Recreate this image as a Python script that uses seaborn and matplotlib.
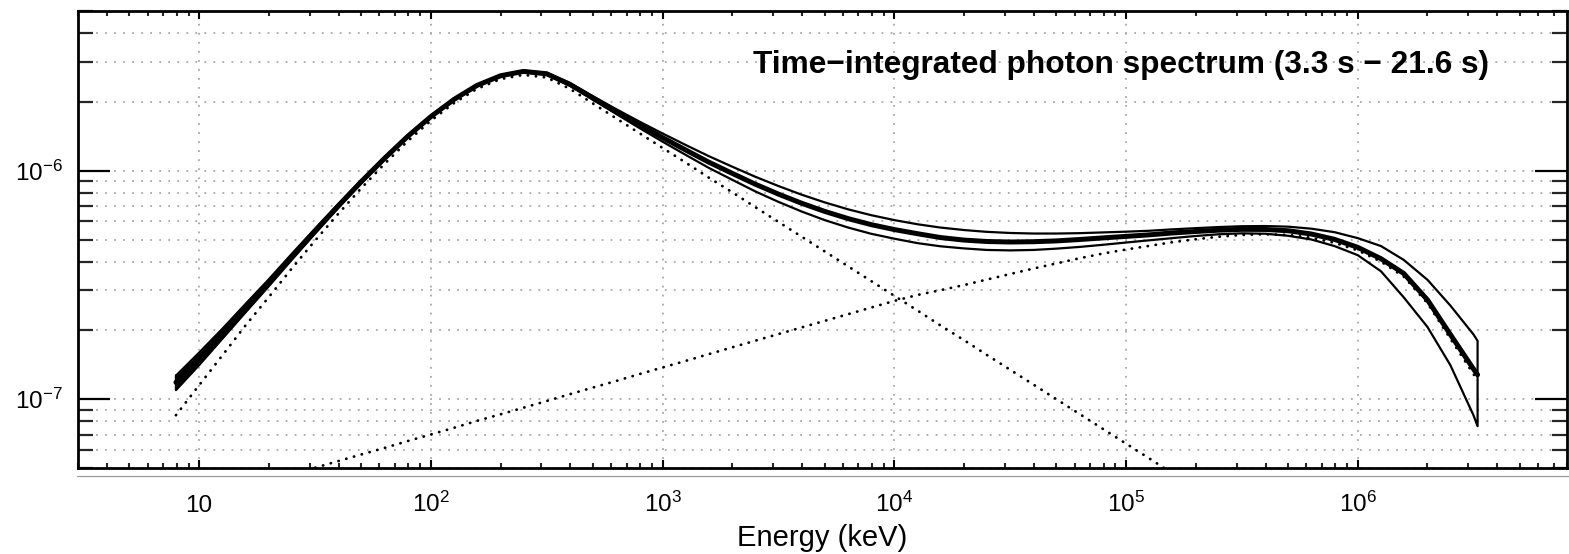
import numpy as np
import pandas as pd
import matplotlib
matplotlib.use("Agg")
import matplotlib.pyplot as plt
from matplotlib.lines import Line2D
from matplotlib import ticker
import seaborn as sns

# ---------------- data ----------------
# photon energy grid, keV
energy = [7.94, 10.0, 12.6, 15.8, 20.0, 25.1, 31.6, 39.8, 50.1, 63.1, 79.4,
          100, 126, 158, 200, 251, 316, 398, 501, 631, 794,
          1.0e3, 1.26e3, 1.58e3, 2.0e3, 2.51e3, 3.16e3, 3.98e3, 5.01e3, 6.31e3, 7.94e3,
          1.0e4, 1.26e4, 1.58e4, 2.0e4, 2.51e4, 3.16e4, 3.98e4, 5.01e4, 6.31e4, 7.94e4,
          1.0e5, 1.26e5, 1.58e5, 2.0e5, 2.51e5, 3.16e5, 3.98e5, 5.01e5, 6.31e5, 7.94e5,
          1.0e6, 1.26e6, 1.58e6, 2.0e6, 2.51e6, 3.16e6, 3.29e6]

# best-fit total nuFnu (erg cm^-2 s^-1)
total = [1.185e-7, 1.509e-7, 1.938e-7, 2.503e-7, 3.24e-7, 4.201e-7, 5.437e-7, 7.006e-7,
         8.961e-7, 1.133e-6, 1.413e-6, 1.725e-6, 2.053e-6, 2.361e-6, 2.604e-6, 2.720e-6,
         2.656e-6, 2.388e-6, 2.080e-6, 1.814e-6, 1.589e-6, 1.396e-6, 1.231e-6, 1.091e-6,
         9.732e-7, 8.734e-7, 7.900e-7, 7.206e-7, 6.636e-7, 6.174e-7, 5.809e-7, 5.527e-7,
         5.30e-7, 5.10e-7, 4.97e-7, 4.90e-7, 4.875e-7, 4.89e-7, 4.93e-7, 5.00e-7,
         5.08e-7, 5.16e-7, 5.24e-7, 5.339e-7, 5.421e-7, 5.492e-7, 5.539e-7, 5.533e-7,
         5.461e-7, 5.284e-7, 5.007e-7, 4.62e-7, 4.12e-7, 3.55e-7, 2.72e-7, 1.92e-7,
         1.355e-7, 1.28e-7]

# upper / lower edge of the 1-sigma contour
upper = [1.268e-7, 1.600e-7, 2.035e-7, 2.603e-7, 3.353e-7, 4.327e-7, 5.573e-7, 7.146e-7,
         9.104e-7, 1.148e-6, 1.429e-6, 1.742e-6, 2.069e-6, 2.378e-6, 2.622e-6, 2.742e-6,
         2.683e-6, 2.419e-6, 2.117e-6, 1.859e-6, 1.641e-6, 1.455e-6, 1.295e-6, 1.159e-6,
         1.041e-6, 9.415e-7, 8.572e-7, 7.855e-7, 7.266e-7, 6.779e-7, 6.390e-7, 6.080e-7,
         5.83e-7, 5.64e-7, 5.50e-7, 5.40e-7, 5.34e-7, 5.31e-7, 5.31e-7, 5.33e-7,
         5.37e-7, 5.41e-7, 5.46e-7, 5.537e-7, 5.605e-7, 5.668e-7, 5.716e-7, 5.727e-7,
         5.690e-7, 5.575e-7, 5.383e-7, 5.07e-7, 4.68e-7, 4.07e-7, 3.33e-7, 2.57e-7,
         1.92e-7, 1.80e-7]
lower = [1.096e-7, 1.411e-7, 1.841e-7, 2.390e-7, 3.127e-7, 4.075e-7, 5.301e-7, 6.866e-7,
         8.818e-7, 1.118e-6, 1.397e-6, 1.708e-6, 2.037e-6, 2.344e-6, 2.586e-6, 2.698e-6,
         2.629e-6, 2.357e-6, 2.043e-6, 1.771e-6, 1.538e-6, 1.340e-6, 1.172e-6, 1.030e-6,
         9.120e-7, 8.123e-7, 7.308e-7, 6.630e-7, 6.079e-7, 5.643e-7, 5.298e-7, 5.041e-7,
         4.82e-7, 4.67e-7, 4.57e-7, 4.50e-7, 4.48e-7, 4.50e-7, 4.56e-7, 4.64e-7,
         4.74e-7, 4.85e-7, 4.96e-7, 5.07e-7, 5.18e-7, 5.27e-7, 5.32e-7, 5.30e-7,
         5.19e-7, 5.00e-7, 4.68e-7, 4.27e-7, 3.63e-7, 2.79e-7, 2.07e-7, 1.41e-7,
         0.85e-7, 0.762e-7]

# Band component (dotted)
band = [0.851e-7, 1.152e-7, 1.556e-7, 2.094e-7, 2.803e-7, 3.733e-7, 4.936e-7, 6.470e-7,
        8.388e-7, 1.072e-6, 1.347e-6, 1.655e-6, 1.978e-6, 2.281e-6, 2.518e-6, 2.628e-6,
        2.558e-6, 2.283e-6, 1.967e-6, 1.694e-6, 1.460e-6, 1.258e-6, 1.084e-6, 9.337e-7,
        8.045e-7, 6.931e-7, 5.972e-7, 5.145e-7, 4.433e-7, 3.819e-7, 3.291e-7, 2.835e-7,
        2.443e-7, 2.105e-7, 1.813e-7, 1.562e-7, 1.346e-7, 1.160e-7, 0.9993e-7, 0.861e-7,
        0.7419e-7, 0.6392e-7, 0.5507e-7, 0.4745e-7, 0.4088e-7, 0.3522e-7]

# extra cut-off power-law component (dotted)
cpl = [0.334e-7, 0.357e-7, 0.382e-7, 0.409e-7, 0.4375e-7, 0.468e-7, 0.501e-7, 0.536e-7,
       0.573e-7, 0.612e-7, 0.656e-7, 0.701e-7, 0.750e-7, 0.804e-7, 0.859e-7, 0.918e-7,
       0.982e-7, 1.052e-7, 1.125e-7, 1.202e-7, 1.288e-7, 1.377e-7, 1.472e-7, 1.574e-7,
       1.687e-7, 1.803e-7, 1.928e-7, 2.061e-7, 2.203e-7, 2.355e-7, 2.518e-7, 2.692e-7,
       2.86e-7, 3.00e-7, 3.16e-7, 3.34e-7, 3.53e-7, 3.73e-7, 3.93e-7, 4.14e-7,
       4.34e-7, 4.52e-7, 4.69e-7, 4.864e-7, 5.012e-7, 5.140e-7, 5.236e-7, 5.272e-7,
       5.236e-7, 5.09e-7, 4.84e-7, 4.48e-7, 4.00e-7, 3.44e-7, 2.63e-7, 1.84e-7,
       1.287e-7, 1.213e-7]

xtick_values = [10, 1e2, 1e3, 1e4, 1e5, 1e6]
xtick_labels = ["10", "$10^{2}$", "$10^{3}$", "$10^{4}$", "$10^{5}$", "$10^{6}$"]
ytick_values = [1e-7, 1e-6]
ytick_labels = ["$10^{-7}$", "$10^{-6}$"]
x_label = "Energy (keV)"
annotation = "Time\u2212integrated photon spectrum (3.3 s \u2212 21.6 s)"

# ---------------- styling ----------------
sns.set_theme(style="white")
plt.rcParams["font.family"] = ["Liberation Sans", "DejaVu Sans"]
plt.rcParams["mathtext.fontset"] = "custom"
plt.rcParams["mathtext.rm"] = "Liberation Sans"
plt.rcParams["mathtext.it"] = "Liberation Sans:italic"
plt.rcParams["mathtext.bf"] = "Liberation Sans:bold"
plt.rcParams["axes.unicode_minus"] = True

W, H = 1569, 554
fig = plt.figure(figsize=(W / 100, H / 100), dpi=100)
ax = fig.add_axes([78 / W, 1 - 468 / H, (1567 - 78) / W, (468 - 11) / H])
ax.set_xscale("log")
ax.set_yscale("log")

df = pd.DataFrame({"E": energy, "total": total, "upper": upper,
                   "lower": lower, "cpl": cpl})
band_df = pd.DataFrame({"E": energy[:len(band)], "band": band})

dot = dict(color="black", lw=2.0, linestyle=(0, (0.1, 2.8)),
           dash_capstyle="round")
sns.lineplot(data=band_df, x="E", y="band", ax=ax, **dot)
sns.lineplot(data=df, x="E", y="cpl", ax=ax, **dot)

# dense bundle of fit curves at low energy (appears solid black)
low = df[df["E"] <= 64]
ax.fill_between(low["E"], low["lower"], low["upper"], color="black", lw=0)

# closed 1-sigma contour outline
contour_x = list(df["E"]) + list(df["E"][::-1]) + [df["E"].iloc[0]]
contour_y = list(df["upper"]) + list(df["lower"][::-1]) + [df["upper"].iloc[0]]
sns.lineplot(x=contour_x, y=contour_y, sort=False, estimator=None, ax=ax,
             color="black", lw=1.6)
sns.lineplot(data=df, x="E", y="total", ax=ax, color="black", lw=3.6)

ax.set_xlim(3.0, 8.0e6)
ax.set_ylim(5e-8, 5e-6)

ax.set_xticks(xtick_values)
ax.set_xticklabels(xtick_labels)
ax.xaxis.set_minor_locator(ticker.LogLocator(base=10, subs=np.arange(2, 10), numticks=20))
ax.xaxis.set_minor_formatter(ticker.NullFormatter())
ax.set_yticks(ytick_values)
ax.set_yticklabels(ytick_labels)
ax.yaxis.set_minor_locator(ticker.LogLocator(base=10, subs=np.arange(2, 10), numticks=20))
ax.yaxis.set_minor_formatter(ticker.NullFormatter())

ax.tick_params(axis="x", which="major", direction="in", length=6, width=1.5,
               top=True, bottom=True, labelsize=17.5, pad=31.5, colors="black")
ax.tick_params(axis="x", which="minor", direction="in", length=3.3, width=1.5,
               top=True, bottom=True)
ax.tick_params(axis="y", which="major", direction="in", length=23, width=1.6,
               left=True, right=True, labelsize=17.5, pad=11, colors="black")
ax.tick_params(axis="y", which="minor", direction="in", length=11, width=1.6,
               left=True, right=True)
# align all x tick labels on a common baseline
for lab in ax.get_xticklabels():
    lab.set_verticalalignment("baseline")

ax.grid(which="major", axis="both", color="#a8a8a8", lw=1.3, linestyle=(0, (1, 4)))
ax.grid(which="minor", axis="y", color="#a8a8a8", lw=1.3, linestyle=(0, (1, 4)))
ax.set_axisbelow(True)
for s in ax.spines.values():
    s.set_color("black")
    s.set_linewidth(2.0)

ax.set_xlabel(x_label, fontsize=21, labelpad=5, color="black")
ax.set_ylabel("")

ax.text((1489 - 78) / (1567 - 78), (468 - 73) / (468 - 11), annotation,
        transform=ax.transAxes, ha="right", va="baseline",
        fontsize=22.8, fontweight="bold", color="black")

fig.add_artist(Line2D([77 / W, 1.0], [1 - 476 / H, 1 - 476 / H],
                      color="#9a9a9a", lw=0.9))

fig.savefig("out.png", dpi=100, facecolor="white")
